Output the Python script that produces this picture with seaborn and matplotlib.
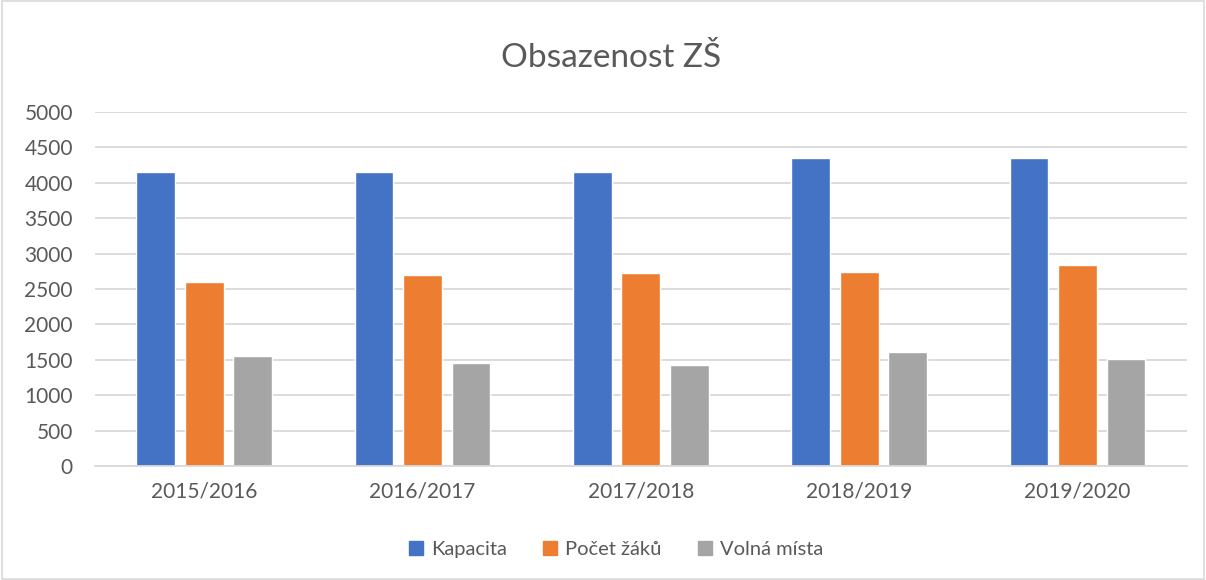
import pandas as pd
import numpy as np
import seaborn as sns
import matplotlib.pyplot as plt
from matplotlib.patches import Rectangle

# Data
years = ['2015/2016', '2016/2017', '2017/2018', '2018/2019', '2019/2020']
kapacita = [4150, 4150, 4150, 4345, 4345]
pocet_zaku = [2600, 2695, 2725, 2740, 2840]
volna_mista = [1550, 1455, 1425, 1605, 1505]
series = ['Kapacita', 'Počet žáků', 'Volná místa']
colors = ['#4472C4', '#ED7D31', '#A5A5A5']

df = pd.DataFrame({'Rok': years, series[0]: kapacita, series[1]: pocet_zaku, series[2]: volna_mista})
long_df = df.melt(id_vars='Rok', var_name='Serie', value_name='Hodnota')

sns.set_style('white')
plt.rcParams['font.family'] = ['Lato', 'DejaVu Sans']
text_col = '#595959'

fig = plt.figure(figsize=(12.06, 5.8), dpi=100)
ax = fig.add_axes([0.0788, 0.1966, 0.9052, 0.6104])

sns.barplot(data=long_df, x='Rok', y='Hodnota', hue='Serie', hue_order=series,
            palette=colors, width=0.667, gap=0.2, ax=ax, saturation=1, legend=False)

ax.set_ylim(0, 5000)
ax.set_yticks(np.arange(0, 5001, 500))
ax.yaxis.grid(True, color='#D9D9D9', linewidth=1.3)
ax.set_axisbelow(True)
for s in ['top', 'right', 'left']:
    ax.spines[s].set_visible(False)
ax.spines['bottom'].set_color('#D9D9D9')
ax.spines['bottom'].set_linewidth(1.3)
ax.tick_params(axis='both', length=0, labelsize=15, colors=text_col)
ax.tick_params(axis='y', pad=16)
ax.tick_params(axis='x', pad=11)
ax.set_xlabel('')
ax.set_ylabel('')

fig.text(0.5066, 0.90, 'Obsazenost ZŠ', ha='center', va='center', fontsize=24, color=text_col)

handles = [Rectangle((0, 0), 1, 1, color=c) for c in colors]
fig.legend(handles, series, loc='center', bbox_to_anchor=(0.511, 0.053), ncol=3, frameon=False,
           fontsize=14.5, labelcolor=text_col, handlelength=0.7, handleheight=0.7,
           handletextpad=0.4, columnspacing=1.8)

# outer chart border
fig.patches.append(Rectangle((0.002, 0.002), 0.996, 0.996, transform=fig.transFigure,
                             fill=False, edgecolor='#D9D9D9', linewidth=1.2))

fig.savefig('out.png', dpi=100)
